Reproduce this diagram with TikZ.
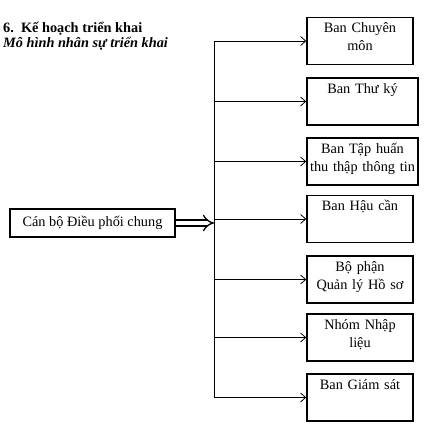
\documentclass[tikz,border=0pt]{standalone}
\usepackage{fontspec}
\setmainfont{Liberation Serif}
\usetikzlibrary{arrows.meta}

\tikzset{
  unit/.style={draw, line width=1.6pt, text width=98pt, align=center,
    inner sep=4pt, text height=11pt, text depth=28pt},
  wide/.style={text width=107pt, inner xsep=2pt},
  lead/.style={draw, line width=1.6pt, minimum width=165pt, minimum height=28pt, inner sep=0pt},
  link/.style={line width=0.8pt, -{Straight Barb[length=5pt,width=9pt]}},
}

\begin{document}
\begin{tikzpicture}[x=1pt, y=-1pt, font=\fontsize{14.3}{18.5}\selectfont]
  \useasboundingbox (0,0) rectangle (428,428);
  \node[anchor=base west, inner sep=0pt, font=\fontsize{14.3}{18.5}\selectfont\bfseries] (sec) at (3,33) {6.\ \ Kế hoạch triển khai};
  \node[anchor=base west, inner sep=0pt, font=\fontsize{14.3}{18.5}\selectfont\bfseries\itshape] (sub) at (3,48) {Mô hình nhân sự triển khai};
  \node[lead] (lead) at (92.5,223) {Cán bộ Điều phối chung};
  \coordinate (trunk) at (214,223);
  \node[unit] (b1) at (360,41) {Ban Chuyên\\môn};
  \node[unit, wide] (b2) at (362.5,101.5) {Ban Thư ký};
  \node[unit, wide] (b3) at (362.5,161.5) {Ban Tập huấn\\thu thập thông tin};
  \node[unit] (b4) at (360,219) {Ban Hậu cần};
  \node[unit] (b5) at (360,279.5) {Bộ phận\\Quản lý Hồ sơ};
  \node[unit] (b6) at (360,337.5) {Nhóm Nhập\\liệu};
  \node[unit] (b7) at (360,397.5) {Ban Giám sát};
  \draw[line width=0.8pt] (b1.west -| trunk) -- (b7.west -| trunk);
  \foreach \b in {b1,b2,b3,b4,b5,b6,b7}
    \draw[link] (\b.west -| trunk) -- (\b.west);
  \draw[line width=1.3pt, double, double distance=4.5pt, -{Implies[scale=1.3]}] (lead.east) -- (trunk);
\end{tikzpicture}
\end{document}
